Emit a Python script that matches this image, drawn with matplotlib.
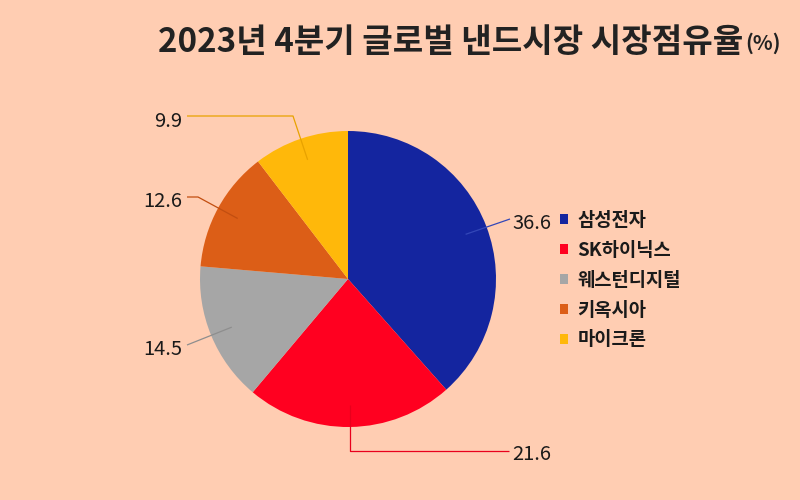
import matplotlib
matplotlib.use('Agg')
import matplotlib.pyplot as plt
import numpy as np

# ---- data ----
companies = ['삼성전자', 'SK하이닉스', '웨스턴디지털', '키옥시아', '마이크론']
shares = [36.6, 21.6, 14.5, 12.6, 9.9]
value_labels = ['36.6', '21.6', '14.5', '12.6', '9.9']
title_main = '2023년 4분기 글로벌 낸드시장 시장점유율'
title_unit = '(%)'

# ---- style ----
colors = ['#14259F', '#FF0020', '#A6A6A6', '#DC5E17', '#FFB80A']
line_colors = ['#3347B8', '#E8001C', '#8E8E8E', '#C24E10', '#E8A200']
bg = '#FFCDB2'
FONT = ['Noto Sans CJK KR', 'DejaVu Sans']
plt.rcParams['font.family'] = FONT

W, H = 800, 500
fig = plt.figure(figsize=(8, 5), dpi=100, facecolor=bg)
ax = fig.add_axes([0, 0, 1, 1])
ax.set_facecolor(bg)

def Y(y):  # top-left pixel y -> data y
    return H - y

cx, cy, r = 348, Y(279), 148
wedges, _ = ax.pie(shares, colors=colors, startangle=90, counterclock=False,
                   center=(cx, cy), radius=r, wedgeprops=dict(linewidth=0))
ax.set_xlim(0, W)
ax.set_ylim(0, H)
ax.set_aspect('equal')
ax.axis('off')

# leader line layout: waypoints (px, top-left origin), text position, alignment
leaders = [
    ([(510, 219)], (512, 229), 'left'),
    (None, (512, 460), 'left'),
    ([(187, 345)], (182, 355), 'right'),
    ([(198, 197), (187, 197)], (182, 207), 'right'),
    ([(293, 116), (187, 116)], (182, 127), 'right'),
]

for w, lab, col, (pts, txy, ha) in zip(wedges, value_labels, line_colors, leaders):
    mid = np.deg2rad((w.theta1 + w.theta2) / 2)
    sx = cx + 0.85 * r * np.cos(mid)
    sy = cy + 0.85 * r * np.sin(mid)
    if pts is None:
        path = [(sx, sy), (sx, Y(451)), (509, Y(451))]
    else:
        path = [(sx, sy)] + [(px, Y(py)) for px, py in pts]
    xs, ys = zip(*path)
    ax.plot(xs, ys, color=col, lw=0.9, solid_capstyle='butt', zorder=5)
    ax.text(txy[0], Y(txy[1]), lab, ha=ha, va='baseline', fontsize=14.5,
            color='#1a1a1a')

# legend
leg = fig.legend(wedges, companies, loc='upper left',
                 bbox_to_anchor=(560 / W, 1 - 211 / H), frameon=False,
                 prop=dict(family=FONT, weight='bold', size=13.5),
                 handlelength=0.42, handleheight=0.42, handletextpad=0.5,
                 labelspacing=0.58, borderpad=0, borderaxespad=0)
for t in leg.get_texts():
    t.set_color('#1a1a1a')

# title: fit to width
fig.canvas.draw()
renderer = fig.canvas.get_renderer()
t1 = fig.text(158 / W, 1 - 52 / H, title_main, ha='left', va='baseline',
              fontsize=24, fontweight='bold', color='#222222')
wpx = t1.get_window_extent(renderer).width
t1.set_fontsize(24 * 585 / wpx)
fig.canvas.draw()
bb = t1.get_window_extent(renderer)
t2 = fig.text((bb.x1 + 2) / W, 1 - 50 / H, title_unit, ha='left', va='baseline',
              fontsize=t1.get_fontsize() * 0.62, fontweight='bold', color='#222222')

fig.savefig('out.png', dpi=100, facecolor=bg)
